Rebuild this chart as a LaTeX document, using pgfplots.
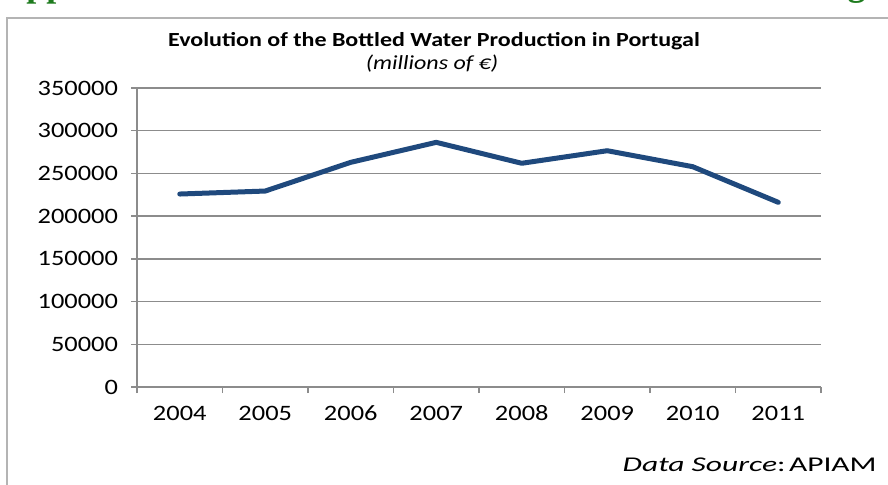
\documentclass[border=0pt]{standalone}
\usepackage{fontspec}
\setmainfont[FakeStretch=1.2]{Carlito}
\newfontfamily\widefont[FakeStretch=1.5]{Carlito}
\newfontfamily\serifgreen{Liberation Serif}
\usepackage{pgfplots}
\pgfplotsset{compat=1.18}
\definecolor{lineblue}{HTML}{1F497D}
\definecolor{gridgray}{HTML}{8C8C8C}
\definecolor{framegray}{HTML}{B4B4B4}
\definecolor{headgreen}{HTML}{1E7B1E}
\begin{document}
\begin{tikzpicture}
\path[use as bounding box] (0pt,0pt) rectangle (444pt,-242pt);
\clip (0pt,0pt) rectangle (444pt,-242pt);
% heading remnants (cut off)
\node[anchor=base west, inner sep=0, text=headgreen, font=\serifgreen\bfseries\fontsize{18}{20}\selectfont] at (0pt,1.8pt) {Appendix};
\node[anchor=base east, inner sep=0, text=headgreen, font=\serifgreen\bfseries\fontsize{18}{20}\selectfont] at (433pt,2.2pt) {ting};
% frame
\draw[framegray, line width=0.6pt] (3.5pt,-250pt) -- (3.5pt,-9pt) -- (450pt,-9pt);
\begin{axis}[
  at={(68.5pt,-193.5pt)}, anchor=south west,
  scale only axis, width=342pt, height=149.5pt,
  xmin=-0.5, xmax=7.5, ymin=0, ymax=350000,
  xtick={0,...,7},
  xticklabels={2004,2005,2006,2007,2008,2009,2010,2011},
  minor xtick={-0.5,0.5,...,7.5},
  ytick={0,50000,...,350000},
  scaled y ticks=false,
  yticklabel={\pgfmathprintnumber[fixed,1000 sep={}]{\tick}},
  /pgf/number format/assume math mode=true,
  tick label style={font=\fontsize{11}{13}\selectfont, text=black},
  axis x line*=bottom, axis y line*=left,
  axis line style={gridgray, line width=0.75pt, -},
  tick align=outside,
  major tick length=3pt, minor tick length=3pt,
  x tick style={draw=none},
  minor x tick style={draw=gridgray, line width=0.75pt},
  y tick style={draw=gridgray, line width=0.75pt},
  ymajorgrids,
  grid style={gridgray, line width=0.75pt},
  yticklabel style={xshift=-3pt},
  xticklabel style={yshift=-1pt, anchor=north},
  typeset ticklabels with strut,
  clip=false,
]
\addplot[lineblue, line width=2.5pt, line cap=round, line join=round] coordinates {
  (0,225900) (1,229400) (2,263000) (3,286400) (4,261900) (5,276600) (6,257900) (7,216200)
};
\end{axis}
\node[font=\bfseries\fontsize{10}{12}\selectfont] at (217pt,-20.5pt) {Evolution of the Bottled Water Production in Portugal};
\node[font=\itshape\fontsize{10}{12}\selectfont] at (216pt,-32pt) {(millions of €)};
\node[anchor=base east, inner sep=0, font=\widefont\fontsize{10.5}{12}\selectfont] at (438.5pt,-235.8pt) {\textit{Data Source}:\,APIAM};
\end{tikzpicture}
\end{document}
